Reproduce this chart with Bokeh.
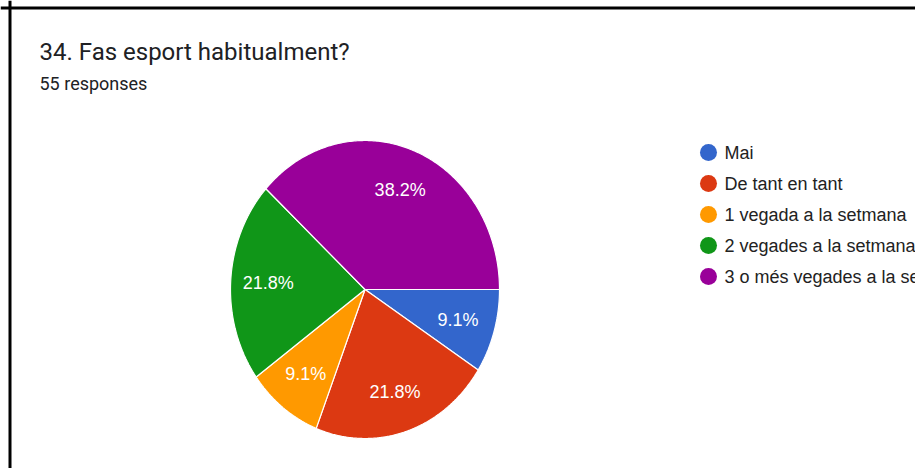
import numpy as np
from bokeh.plotting import figure
from bokeh.models import Range1d, Span, Label
from bokeh.core.properties import value
from bokeh.embed import file_html
from bokeh.resources import INLINE

# ---- data ----
title_text = "34. Fas esport habitualment?"
subtitle_text = "55 responses"
categories = ["Mai", "De tant en tant", "1 vegada a la setmana",
              "2 vegades a la setmana", "3 o més vegades a la setmana"]
counts = [5, 12, 5, 12, 21]
colors = ["#3366cc", "#dc3912", "#ff9900", "#109618", "#990099"]

# ---- layout (pixel coords, y down) ----
W, H = 915, 468
cx, cy = 364.5, 289.0
rx, ry = 134.5, 149.0
label_frac = 0.72

p = figure(width=W, height=H, x_range=Range1d(0, W), y_range=Range1d(H, 0),
           output_backend="svg", toolbar_location=None,
           x_axis_location=None, y_axis_location=None, min_border=0)
p.grid.visible = False
p.outline_line_color = None
p.background_fill_color = "white"
p.border_fill_color = "white"

total = float(sum(counts))
fracs = np.array(counts) / total
ends = -np.cumsum(fracs) * 2 * np.pi
starts = np.concatenate([[0.0], ends[:-1]])

xs, ys, lx, ly, ltxt = [], [], [], [], []
for s, e, f in zip(starts, ends, fracs):
    t = np.linspace(s, e, 200)
    xs.append(list(np.concatenate([[cx], cx + rx * np.cos(t), [cx]])))
    ys.append(list(np.concatenate([[cy], cy - ry * np.sin(t), [cy]])))
    m = (s + e) / 2
    lx.append(cx + label_frac * rx * np.cos(m))
    ly.append(cy - label_frac * ry * np.sin(m))
    ltxt.append(f"{f*100:.1f}%")

p.patches(xs=xs, ys=ys, fill_color=colors, line_color="white", line_width=1.2)
p.text(x=lx, y=ly, text=ltxt, text_color="white", text_font=value("Liberation Sans"),
       text_font_size="18px", text_align="center", text_baseline="middle")

# legend
leg_x, leg_y0, leg_dy = 708.0, 152.0, 31.0
leg_ys = [leg_y0 + i * leg_dy for i in range(len(categories))]
p.scatter(x=[leg_x] * len(categories), y=leg_ys, size=17, fill_color=colors,
          line_color=None, marker="circle")
p.text(x=[leg_x + 16] * len(categories), y=leg_ys, text=categories,
       text_color="#222222", text_font=value("Liberation Sans"),
       text_font_size="18px", text_align="left", text_baseline="middle")

# titles
p.add_layout(Label(x=39, y=51, text=title_text, text_font="Roboto",
                   text_font_size="24px", text_color="#202124",
                   text_baseline="alphabetic"))
p.add_layout(Label(x=39, y=83, text=subtitle_text, text_font="Roboto",
                   text_font_size="18px", text_color="#202124",
                   text_baseline="alphabetic"))

# frame border (left and top)
p.add_layout(Span(location=9.5, dimension="height", line_color="black", line_width=3))
p.add_layout(Span(location=7.5, dimension="width", line_color="black", line_width=3))

open("out.html", "w").write(file_html(p, INLINE))
